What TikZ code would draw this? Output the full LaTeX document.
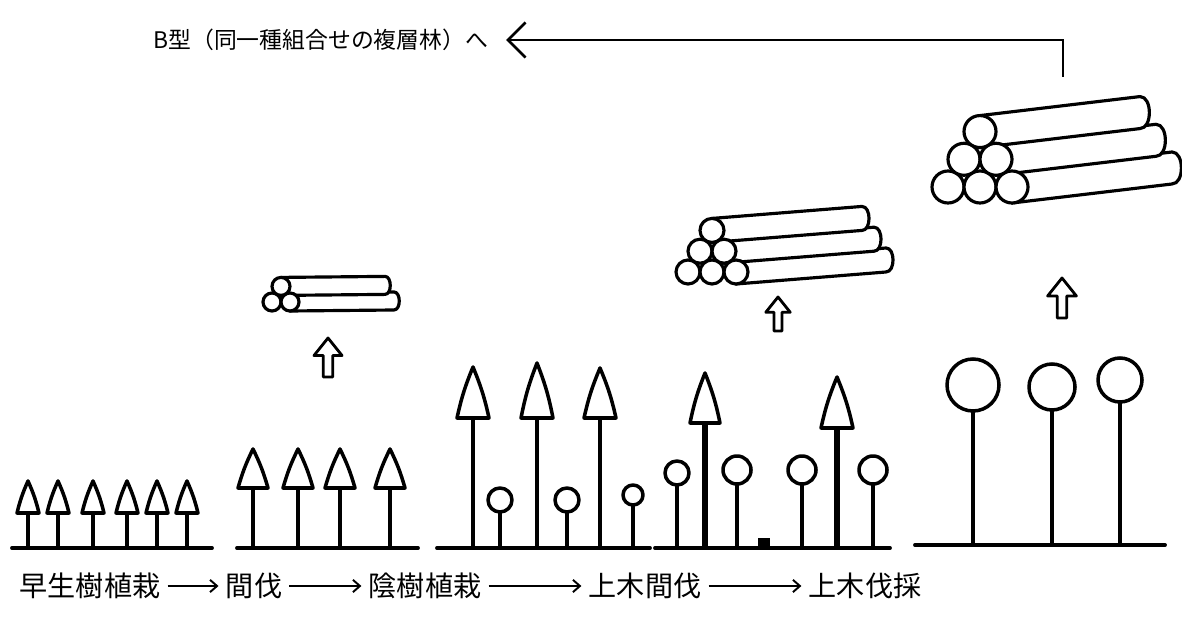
\documentclass[tikz,border=0pt]{standalone}
\usepackage{fontspec}
\newfontfamily\jp{Noto Sans CJK JP}
\usetikzlibrary{arrows.meta}

% cone-shaped tree: x, top, base of crown, half width, ground
\newcommand{\conetree}[6][trunk]{%
  \draw[#1] (#2,#4) -- (#2,#6);
  \draw[crown] (#2,#3) to[bend right=5] (#2-#5,#4) -- (#2+#5,#4)
    to[bend right=5] (#2,#3) -- cycle;}
% round tree: x, centre of crown, radius, ground
\newcommand{\balltree}[4]{%
  \draw[trunk] (#1,#2+#3) -- (#1,#4);
  \draw[crown] (#1,#2) circle (#3);}
% pile of logs: x0, y0 (front bottom-left log), radius, length, rise, rows
\newcommand{\logpile}[6]{%
  \pgfmathtruncatemacro\toprow{#6-1}
  \foreach \j in {0,...,\toprow}{
    \pgfmathsetmacro\cx{#1+2*#3*(#6-1)-\j*#3}
    \pgfmathsetmacro\cy{#2-1.732*\j*#3}
    \draw[log] (\cx,\cy-#3) -- ++(#4,-#5) to[out=0,in=0] ++(0,2*#3)
      -- (\cx,\cy+#3) -- cycle;
  }
  \foreach \j in {0,...,\toprow}{
    \pgfmathtruncatemacro\last{#6-\j-1}
    \foreach \i in {0,...,\last}
      \draw[log] ({#1+\j*#3+2*#3*\i},{#2-1.732*\j*#3}) circle (#3);
  }}
% hollow up arrow: x, top, bottom
\newcommand{\liftarrow}[3]{%
  \pgfmathsetmacro\hh{#2+0.45*(#3-#2)}
  \pgfmathsetmacro\hw{0.36*(#3-#2)}
  \pgfmathsetmacro\sw{0.12*(#3-#2)}
  \draw[lift] (#1,#2) -- (#1+\hw,\hh) -- (#1+\sw,\hh) -- (#1+\sw,#3)
    -- (#1-\sw,#3) -- (#1-\sw,\hh) -- (#1-\hw,\hh) -- cycle;}

\begin{document}
\begin{tikzpicture}[x=0.02cm,y=-0.02cm,
  ground/.style={line width=2.2pt,line cap=round},
  trunk/.style={line width=2pt,line cap=round},
  thicktrunk/.style={line width=3.4pt},
  crown/.style={line width=2pt,fill=white,line join=round},
  log/.style={line width=1.8pt,fill=white,line join=round},
  lift/.style={line width=1.6pt,line join=round},
  stage/.style={font=\jp\fontsize{16}{19}\selectfont,inner xsep=4pt,inner ysep=2pt},
  flow/.style={-{Straight Barb[length=4pt,width=7pt]},line width=1.1pt},
  back/.style={-{Straight Barb[length=10pt,width=20pt]},line width=1.5pt,shorten >=6pt}]
  \useasboundingbox (0,0) rectangle (1182,617);

  % ground lines
  \draw[ground] (12,548) -- (212,548);
  \draw[ground] (237,548) -- (418,548);
  \draw[ground] (437,548) -- (650,548);
  \draw[ground] (655,548) -- (890,548);
  \draw[ground] (915,545) -- (1165,545);

  % early trees
  \foreach \x in {28,58,93,127,157,187} \conetree{\x}{481}{513}{11}{548};
  % thinning
  \foreach \x in {253,298,340,390} \conetree{\x}{449}{488}{15}{548};
  \logpile{272}{302}{9}{104}{1}{2}
  \liftarrow{328}{338}{377}
  % shade trees planted below
  \foreach \x/\t in {473/367,537/363,600/368} \conetree{\x}{\t}{418}{16}{548};
  \foreach \x/\y/\r in {500/500/12,567/500/12,633/495/10} \balltree{\x}{\y}{\r}{548};
  % upper layer thinned
  \conetree[thicktrunk]{705}{373}{423}{15}{548}
  \conetree[thicktrunk]{837}{377}{428}{16}{548}
  \foreach \x/\y/\r in {677/473/12,737/470/14,802/470/14,873/470/14} \balltree{\x}{\y}{\r}{548};
  \fill (758,538) rectangle (770,548);
  \logpile{688}{272}{12}{150}{12}{3}
  \liftarrow{778}{297}{331}
  % upper layer cut
  \foreach \x/\y/\r in {973/385/26,1052/387/23,1120/380/22} \balltree{\x}{\y}{\r}{545};
  \logpile{948}{187}{16}{160}{19}{3}
  \liftarrow{1062}{278}{318}

  % stages
  \node[stage] (s1) at (90,586) {早生樹植栽};
  \node[stage] (s2) at (254,586) {間伐};
  \node[stage] (s3) at (425,586) {陰樹植栽};
  \node[stage] (s4) at (645,586) {上木間伐};
  \node[stage] (s5) at (865,586) {上木伐採};
  \foreach \a/\b in {s1/s2,s2/s3,s3/s4,s4/s5} \draw[flow] (\a) -- (\b);

  \node[font=\jp\fontsize{13}{15}\selectfont,anchor=west,inner sep=4pt] (btype) at (146,40)
    {B型（同一種組合せの複層林）へ};
  \coordinate (cut) at (1063,77);
  \draw[back] (cut) |- (btype);
\end{tikzpicture}
\end{document}
